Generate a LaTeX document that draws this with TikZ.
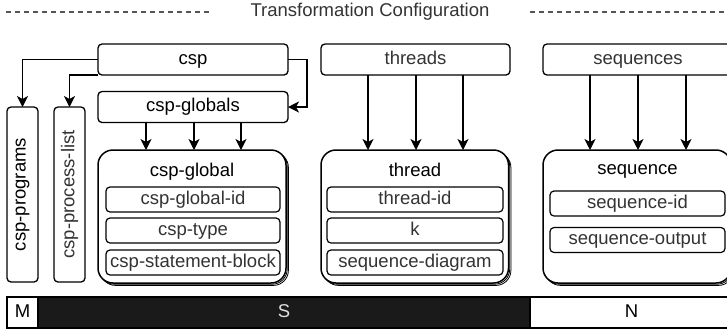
\documentclass[tikz,border=0pt]{standalone}
\usepackage{graphicx}
\usepackage{fontspec}
\setmainfont{Liberation Sans}
\usetikzlibrary{arrows.meta,shadows,calc}
\definecolor{txtgray}{HTML}{333333}
\definecolor{dashgray}{HTML}{555555}
\definecolor{barblack}{HTML}{1A1A1A}
\begin{document}
\begin{tikzpicture}[x=1pt,y=-1pt,
  font=\fontsize{18.5}{22}\selectfont,
  box/.style={draw, line width=1.3pt, rounded corners=4pt, fill=white, inner sep=0pt, outer sep=0pt,
    minimum height=31pt, text height=13.2pt, text depth=3.9pt, text=txtgray},
  vbox/.style={draw, line width=1.3pt, rounded corners=4pt, fill=white, inner sep=0pt, outer sep=0pt,
    minimum width=31pt, minimum height=175pt, text=txtgray},
  item/.style={draw, line width=1.2pt, rounded corners=4pt, fill=white, inner sep=0pt, outer sep=0pt,
    minimum height=25pt, text height=13.2pt, text depth=3.9pt, text=txtgray},
  stackbox/.style={draw, line width=1.5pt, rounded corners=15pt, fill=white, inner sep=0pt, outer sep=0pt,
    copy shadow={shadow xshift=2.4pt, shadow yshift=-2.4pt, line width=0.8pt},
    copy shadow={shadow xshift=1.2pt, shadow yshift=-1.2pt, line width=0.8pt}},
  ttl/.style={inner sep=0pt, text height=13.2pt, text depth=3.9pt, text=black},
  barcell/.style={draw, line width=1.2pt, inner sep=0pt, outer sep=0pt, minimum height=31pt,
    text height=13.2pt, text depth=3.9pt, fill=white, text=black},
  arr/.style={line width=1.3pt, -{Stealth[length=11pt,width=11pt,inset=3pt]}},
  dashline/.style={draw=dashgray, line width=1.3pt, dash pattern=on 5pt off 4pt}
]
\path[use as bounding box] (0,0) rectangle (727,333);
\clip (0,0) rectangle (727,333);

% header
\coordinate (d1a) at (6,12);
\coordinate (d1b) at (211,12);
\coordinate (d2a) at (530,12);
\coordinate (d2b) at (727,12);
\draw[dashline] (d1a) -- (d1b);
\draw[dashline] (d2a) -- (d2b);
\node[inner sep=0pt, text=txtgray] (title) at (370,12) {Transformation Configuration};

% csp column
\node[box, minimum width=190pt, text=black] (csp) at (193,59.5) {csp};
\node[box, minimum width=190pt, text=black] (cspglobals) at (193,107) {csp-globals};
\node[vbox, text=black] (cspprog) at (22.5,194.5) {\rotatebox{90}{csp-programs}};
\node[vbox] (cspproc) at (69.5,194.5) {\rotatebox{90}{csp-process-list}};

\node[stackbox, minimum width=188pt, minimum height=133pt] (cspglobal) at (192,216.5) {};
\node[ttl] (tcspglobal) at (192,172) {csp-global};
\node[item, minimum width=174pt] (cspgid) at (193,199.5) {csp-global-id};
\node[item, minimum width=174pt] (csptype) at (193,230.5) {csp-type};
\node[item, minimum width=174pt] (cspstmt) at (193,262.5) {csp-statement-block};

\draw[arr] (csp.west) -| (cspprog.north);
\draw[arr] (csp.south west) -| (cspproc.north);
\draw[arr] (csp.east) -- ++(19,0) |- (cspglobals.east);
\draw[arr] ($(cspglobals.south)+(-47,0)$) -- ($(cspglobal.north)+(-46,0)$);
\draw[arr] ($(cspglobals.south)+(1,0)$) -- ($(cspglobal.north)+(2,0)$);
\draw[arr] ($(cspglobals.south)+(48,0)$) -- ($(cspglobal.north)+(49,0)$);

% threads column
\node[box, minimum width=189pt] (threads) at (415.5,59.5) {threads};
\node[stackbox, minimum width=187.5pt, minimum height=133pt] (thread) at (414.75,216.5) {};
\node[ttl] (tthread) at (415,172) {thread};
\node[item, minimum width=176pt] (threadid) at (415,199.5) {thread-id};
\node[item, minimum width=176pt] (kk) at (415,230.5) {k};
\node[item, minimum width=176pt] (seqdiag) at (415,262.5) {sequence-diagram};
\draw[arr] ($(threads.south)+(-47.5,0)$) -- ($(thread.north)+(-46.75,0)$);
\draw[arr] ($(threads.south)+(0.5,0)$) -- ($(thread.north)+(1.25,0)$);
\draw[arr] ($(threads.south)+(47.5,0)$) -- ($(thread.north)+(48.25,0)$);

% sequences column
\node[box, minimum width=190pt] (sequences) at (638,59.5) {sequences};
\node[stackbox, minimum width=188pt, minimum height=133pt] (sequence) at (637,216.5) {};
\node[ttl] (tsequence) at (637.5,170) {sequence};
\node[item, minimum width=175pt] (seqid) at (637.5,203.5) {sequence-id};
\node[item, minimum width=175pt] (seqout) at (637.5,240) {sequence-output};
\draw[arr] ($(sequences.south)+(-48,0)$) -- ($(sequence.north)+(-47,0)$);
\draw[arr] (sequences.south) -- ($(sequence.north)+(1,0)$);
\draw[arr] ($(sequences.south)+(48,0)$) -- ($(sequence.north)+(49,0)$);

% bottom bar
\node[barcell, minimum width=31pt] (M) at (22.5,312.5) {M};
\node[barcell, minimum width=492pt, fill=barblack, text=white!88!black] (S) at (284,312.5) {S};
\node[barcell, minimum width=203pt] (N) at (631.5,312.5) {N};
\end{tikzpicture}
\end{document}
